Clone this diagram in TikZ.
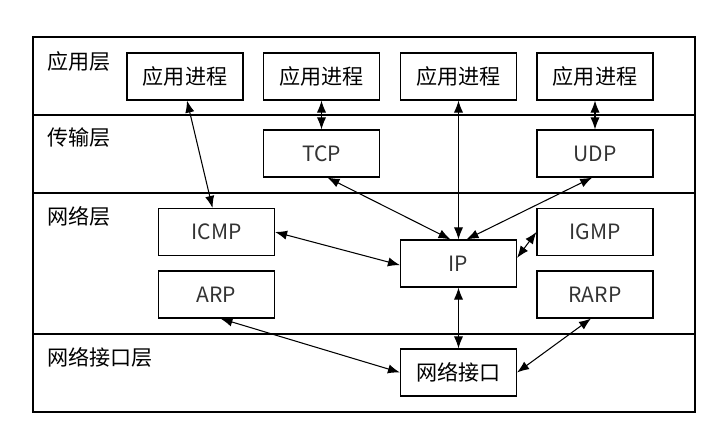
\documentclass[tikz,border=0pt]{standalone}
\usepackage{fontspec}
\setmainfont{Noto Sans CJK SC}
\usepackage{xcolor}
\usepackage{tikz}
\usetikzlibrary{arrows.meta, calc}

\begin{document}
\begin{tikzpicture}[
        box/.style={draw=black, line width=0.8pt, minimum width=2.9cm, minimum height=1.175cm,
            inner sep=0pt, font=\fontsize{15pt}{17pt}\selectfont},
        proto/.style={box, text=black!80},
        layername/.style={anchor=west, inner sep=0pt, font=\fontsize{15pt}{17pt}\selectfont},
        link/.style={{Latex[length=3mm,width=2.3mm]}-{Latex[length=3mm,width=2.3mm]}, line width=0.75pt}
    ]
        \useasboundingbox (0,0) rectangle (17.975,10.925);

        % Frame and layers
        \draw[line width=0.8pt] (0.825,0.625) rectangle (17.375,10);
        \draw[line width=0.8pt] (0.825,8.05) -- (17.375,8.05);
        \draw[line width=0.8pt] (0.825,6.1) -- (17.375,6.1);
        \draw[line width=0.8pt] (0.825,2.575) -- (17.375,2.575);

        % Layer names
        \node[layername] (lapp) at (1.175,9.375) {应用层};
        \node[layername] (ltrans) at (1.175,7.475) {传输层};
        \node[layername] (lnet) at (1.175,5.525) {网络层};
        \node[layername] (llink) at (1.175,2.0) {网络接口层};

        % Application processes
        \node[box] (app1) at (4.625,9.0125) {应用进程};
        \node[box] (app2) at (8.0375,9.0125) {应用进程};
        \node[box] (app3) at (11.4625,9.0125) {应用进程};
        \node[box] (app4) at (14.875,9.0125) {应用进程};

        % Protocols
        \node[proto] (tcp) at (8.0375,7.0875) {TCP};
        \node[proto] (udp) at (14.875,7.0875) {UDP};
        \node[proto] (icmp) at (5.4125,5.125) {ICMP};
        \node[proto] (arp) at (5.4125,3.5625) {ARP};
        \node[proto] (ip) at (11.4625,4.3375) {IP};
        \node[proto] (igmp) at (14.875,5.125) {IGMP};
        \node[proto] (rarp) at (14.875,3.5625) {RARP};
        \node[box] (netif) at (11.4625,1.6125) {网络接口};

        % Arrows
        \draw[link] ([xshift=0.05cm]app1.south) -- ([xshift=-0.1cm]icmp.north);
        \draw[link] (app2.south) -- (tcp.north);
        \draw[link] (app3.south) -- (ip.north);
        \draw[link] (app4.south) -- (udp.north);
        \draw[link] ([xshift=0.15cm]tcp.south) -- ([xshift=-0.2cm]ip.north);
        \draw[link] ([xshift=-0.07cm]udp.south) -- ([xshift=0.2cm]ip.north);
        \draw[link] (icmp.east) -- ([yshift=-0.04cm]ip.west);
        \draw[link] (igmp.west) -- ([yshift=0.14cm]ip.east);
        \draw[link] ([xshift=0.1cm]arp.south) -- (netif.west);
        \draw[link] (ip.south) -- (netif.north);
        \draw[link] ([xshift=-0.1cm]rarp.south) -- (netif.east);

    \end{tikzpicture}
\end{document}
